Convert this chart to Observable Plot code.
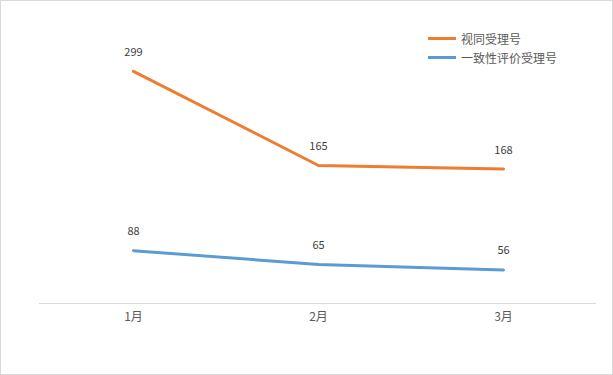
<!DOCTYPE html>
<html><head><meta charset="utf-8">
<script src="https://cdn.jsdelivr.net/npm/d3@7"></script>
<script src="https://cdn.jsdelivr.net/npm/@observablehq/plot@0.6"></script>
<style>
body{margin:0;background:#fff;font-family:"Noto Sans CJK SC","Noto Sans",sans-serif;}
#wrap{position:relative;width:613px;height:375px;overflow:hidden;}
#border{position:absolute;left:0;top:0;width:613px;height:375px;box-sizing:border-box;border:1px solid #d9d9d9;pointer-events:none;}
#legend{position:absolute;left:428px;top:29px;font-size:12px;color:#595959;line-height:19px;}
#legend .row{display:flex;align-items:center;height:19px;}
#legend .sw{width:28px;height:3px;margin-right:5px;}
</style></head>
<body>
<div id="wrap"><div id="legend"></div><div id="border"></div></div>
<script>
const months = ["1月","2月","3月"];
const seriesNames = ["视同受理号","一致性评价受理号"];
const seriesColors = ["#ED7D31","#5B9BD5"];
const shitong = [299,165,168];
const yizhixing = [88,65,56];

const data = [];
months.forEach((m,i)=>{
  data.push({month:m, series:seriesNames[1], value:yizhixing[i]});
  data.push({month:m, series:seriesNames[0], value:shitong[i]});
});
const stackOrder = [seriesNames[1], seriesNames[0]];

const chart = Plot.plot({
  width:613, height:375,
  marginLeft:39, marginRight:17, marginTop:33, marginBottom:72,
  style:{fontFamily:'"Noto Sans CJK SC","Noto Sans",sans-serif', background:"transparent"},
  x:{type:"point", domain:months, padding:0.5, label:null, tickSize:0, tickPadding:8, fontSize:12},
  y:{domain:[0,450], axis:null},
  color:{domain:seriesNames, range:seriesColors},
  marks:[
    Plot.ruleY([0],{stroke:"#d9d9d9", strokeWidth:1}),
    Plot.axisX({tickSize:0, tickPadding:9, fontSize:12, color:"#595959", label:null}),
    Plot.lineY(data, Plot.stackY2({x:"month", y:"value", z:"series", order:stackOrder, stroke:"series", strokeWidth:3, curve:"linear"})),
    Plot.text(data, Plot.stackY2({x:"month", y:"value", z:"series", order:stackOrder, text:d=>String(d.value), dy:-19, fill:"#404040", fontSize:11}))
  ]
});
document.getElementById("wrap").prepend(chart);

const lg = document.getElementById("legend");
seriesNames.forEach((n,i)=>{
  const r = document.createElement("div"); r.className="row";
  const s = document.createElement("div"); s.className="sw"; s.style.background=seriesColors[i];
  const t = document.createElement("span"); t.textContent=n;
  r.appendChild(s); r.appendChild(t); lg.appendChild(r);
});
</script>
</body></html>
